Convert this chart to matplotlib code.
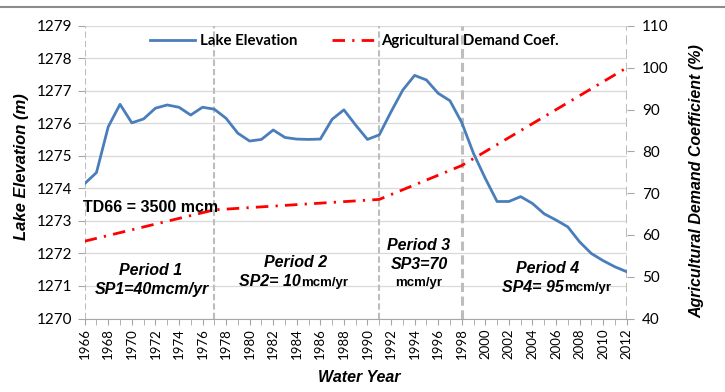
"""Lake elevation vs agricultural demand coefficient, 1966-2012."""
import matplotlib
matplotlib.use("Agg")
import matplotlib.pyplot as plt
from matplotlib.lines import Line2D

# ---- data ------------------------------------------------------------------
years = list(range(1966, 2013))
lake_elev = [1274.15, 1274.49, 1275.90, 1276.59, 1276.02, 1276.14, 1276.47,
             1276.57, 1276.50, 1276.26, 1276.50, 1276.44,            # 1966-1977
             1276.16, 1275.70, 1275.46, 1275.51, 1275.80, 1275.57,
             1275.52, 1275.51, 1275.52, 1276.13, 1276.42,            # 1978-1988
             1275.95, 1275.51, 1275.65, 1276.36, 1277.03, 1277.48,
             1277.34, 1276.93, 1276.70, 1276.03,                     # 1989-1998
             1275.08, 1274.31, 1273.60, 1273.60, 1273.75, 1273.54,
             1273.22, 1273.03, 1272.82, 1272.36, 1272.00, 1271.78,
             1271.59, 1271.44]                                       # 1999-2012

ag_years = [1966, 1977, 1991, 1998, 2012]
ag_coef = [58.5, 66.0, 68.5, 76.6, 100.0]

period_bounds = [1966, 1977, 1991, 1998, 2012]
xtick_years = list(range(1966, 2013, 2))

BLUE = "#4A7EBB"
RED = "#FF0000"
GRID = "#D9D9D9"
VLINE = "#BDBDBD"

TICK_FONT = "Lato"
TXT_FONT = "Liberation Sans"

fig = plt.figure(figsize=(7.25, 3.92), dpi=100)
ax = fig.add_axes([0.1168, 0.1875, 0.7476, 0.7462])
ax2 = ax.twinx()

# lake elevation (left axis)
ax.plot(years, lake_elev, color=BLUE, lw=2.0, solid_joinstyle="round", zorder=3)
ax.set_xlim(1966, 2012)
ax.set_ylim(1270, 1279)
ax.set_yticks(range(1270, 1280))
ax.yaxis.grid(True, color=GRID, lw=0.9)
ax.set_axisbelow(True)

# period boundaries
for yr in period_bounds:
    lw = 2.2 if yr in (1998, 2012) else 1.5
    ax.axvline(yr, color=VLINE, lw=lw, ls=(0, (3, 1.5)), zorder=2)

# agricultural demand coefficient (right axis)
ax2.plot(ag_years, ag_coef, color=RED, lw=2.0, ls=(0, (4.5, 2.6, 0.8, 2.6)),
         zorder=4)
ax2.set_ylim(40, 110)
ax2.set_yticks(range(40, 111, 10))

for a in (ax, ax2):
    for s in ("top", "left", "right"):
        a.spines[s].set_visible(False)
ax.spines["bottom"].set_color("#A6A6A6")
ax2.spines["bottom"].set_visible(False)

ax.set_xticks(xtick_years)
ax.set_xticks(years, minor=True)
ax.set_xticklabels([str(y) for y in xtick_years], rotation=90,
                   fontfamily=TICK_FONT, fontsize=9.5)
ax.tick_params(axis="x", which="both", length=4, color="#A6A6A6", pad=3)
ax.tick_params(axis="y", length=5, color="#A6A6A6", pad=4)
ax2.tick_params(axis="y", length=5, color="#A6A6A6", pad=6)
for lab in ax.get_yticklabels() + ax2.get_yticklabels():
    lab.set_fontfamily(TICK_FONT)
    lab.set_fontsize(11)

# axis titles
fig.text(22 / 725, 1 - 166.5 / 392, "Lake Elevation (m)", rotation=90,
         ha="center", va="center", fontfamily=TXT_FONT, fontsize=12,
         fontweight="bold", fontstyle="italic")
fig.text(697 / 725, 1 - 181 / 392, "Agricultural Demand Coefficient (%)",
         rotation=90, ha="center", va="center", fontfamily=TXT_FONT,
         fontsize=11.5, fontweight="bold", fontstyle="italic")
fig.text(359.5 / 725, 1 - 377 / 392, "Water Year", ha="center", va="center",
         fontfamily=TXT_FONT, fontsize=11.5, fontweight="bold",
         fontstyle="italic")

# annotations
bi = dict(fontfamily=TXT_FONT, fontsize=11.5, fontweight="bold",
          fontstyle="italic", va="center", zorder=5)
small = dict(fontfamily=TXT_FONT, fontsize=9.5, fontweight="bold",
             va="center", zorder=5)

ax.text(1965.85, 1273.4, "TD66 = 3500 mcm", ha="left", fontfamily=TXT_FONT,
        fontsize=11.5, fontweight="bold", va="center", zorder=5)

ax.text(1971.55, 1271.47, "Period 1", ha="center", **bi)
ax.text(1971.70, 1270.90, "SP1=40mcm/yr", ha="center", **bi)

ax.text(1983.92, 1271.71, "Period 2", ha="center", **bi)
ax.text(1984.32, 1271.13, "SP2= 10", ha="right", **bi)
ax.text(1984.35, 1271.10, "mcm/yr", ha="left", **small)

ax.text(1994.35, 1272.26, "Period 3", ha="center", **bi)
ax.text(1994.44, 1271.65, "SP3=70", ha="center", **bi)
ax.text(1994.34, 1271.08, "mcm/yr", ha="center", **small)

ax.text(2005.25, 1271.54, "Period 4", ha="center", **bi)
ax.text(2006.65, 1270.96, "SP4= 95", ha="right", **bi)
ax.text(2006.68, 1270.93, "mcm/yr", ha="left", **small)

# legend
handles = [
    Line2D([], [], color=BLUE, lw=2.0),
    Line2D([], [], color=RED, lw=2.0, ls=(0, (4.5, 2.6, 0.8, 2.6))),
]
leg = ax2.legend(handles, ["Lake Elevation", "Agricultural Demand Coef."],
                 loc="center", bbox_to_anchor=(0.498, 0.949), ncol=2,
                 frameon=False, handlelength=3.0, handletextpad=0.3,
                 columnspacing=2.3,
                 prop={"family": TICK_FONT, "weight": "bold", "size": 10.8})

# thin frame line along the top of the picture
fig.add_artist(Line2D([0, 1], [1 - 7 / 392, 1 - 7 / 392], color="#8C8C8C",
                      lw=1.5, transform=fig.transFigure))

fig.savefig("out.png", dpi=100)
